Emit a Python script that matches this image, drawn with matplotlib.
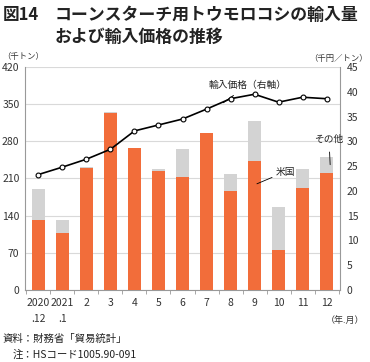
import numpy as np
import matplotlib
matplotlib.use("Agg")
import matplotlib.pyplot as plt

plt.rcParams['font.family'] = ['Noto Sans CJK JP', 'DejaVu Sans']

# 月ラベル
months = ["2020\n.12", "2021\n.1", "2", "3", "4", "5", "6", "7", "8", "9", "10", "11", "12"]
# 輸入量（千トン）
us_vol = [132, 107, 229, 333, 267, 224, 212, 296, 187, 243, 75, 193, 221]
total_vol = [191, 132, 232, 335, 267, 227, 265, 296, 218, 319, 157, 228, 251]
# 輸入価格（千円/トン）
price = [23.3, 24.8, 26.4, 28.4, 32.1, 33.3, 34.5, 36.5, 38.6, 39.5, 37.9, 38.9, 38.6]

other_vol = [t - u for t, u in zip(total_vol, us_vol)]

orange = "#F26D3A"
gray = "#D3D3D3"
W, H = 370, 362

fig = plt.figure(figsize=(W / 100, H / 100), dpi=100)
ax = fig.add_axes([25 / W, 1 - 290 / H, 315 / W, 223 / H])

x = np.arange(len(months))
ax.bar(x, us_vol, width=0.56, color=orange, zorder=3)
ax.bar(x, other_vol, bottom=us_vol, width=0.56, color=gray, zorder=3)

ax.set_xlim(-0.56, 12.56)
ax.set_ylim(0, 420)
ax.set_yticks(range(0, 421, 70))
ax.yaxis.grid(True, color="#d9d9d9", linewidth=0.8, zorder=0)
ax.tick_params(axis="y", length=0, labelsize=7.5, pad=4, colors="#333333")
ax.set_xticks(x)
ax.set_xticklabels(months, fontsize=7.5, linespacing=1.7, color="#333333", va="top")
ax.tick_params(axis="x", length=0, pad=6)
ax.set_xticks(np.arange(-0.5, 13, 1), minor=True)
ax.tick_params(axis="x", which="minor", length=3, color="#999999")
for s in ["left", "right", "bottom"]:
    ax.spines[s].set_color("#999999")
    ax.spines[s].set_linewidth(0.8)
ax.spines["top"].set_visible(False)

ax2 = ax.twinx()
ax2.set_ylim(0, 45)
ax2.set_yticks(range(0, 46, 5))
ax2.tick_params(axis="y", length=0, labelsize=7.5, pad=5, colors="#333333")
ax2.plot(x, price, color="black", linewidth=1.2, marker="o", markersize=3.5,
         markerfacecolor="white", markeredgecolor="black", markeredgewidth=0.8, zorder=5)
for s in ["left", "right", "bottom", "top"]:
    ax2.spines[s].set_visible(False)

# 注釈
ax2.annotate("輸入価格（右軸）", xy=(7.7, 37.8), xytext=(7.1, 41.3), fontsize=7,
             ha="left", va="center", color="#222222",
             arrowprops=dict(arrowstyle="-", color="black", lw=0.7, shrinkA=3, shrinkB=0))
ax.annotate("その他", xy=(12.15, 236), xytext=(12.1, 285), fontsize=7,
            ha="center", va="center", color="#222222",
            arrowprops=dict(arrowstyle="-", color="black", lw=0.6, shrinkA=4, shrinkB=0))
ax.annotate("米国", xy=(9.1, 200), xytext=(9.9, 223), fontsize=7,
            ha="left", va="center", color="#222222",
            arrowprops=dict(arrowstyle="-", color="black", lw=0.6, shrinkA=1, shrinkB=0))

# タイトル・単位・出所
fig.text(3 / W, 1 - 15 / H, "図14", fontsize=12, fontweight="bold", va="center", ha="left", color="#222222")
fig.text(55 / W, 1 - 15 / H, "コーンスターチ用トウモロコシの輸入量", fontsize=12.2,
         fontweight="bold", va="center", ha="left", color="#222222")
fig.text(55 / W, 1 - 37 / H, "および輸入価格の推移", fontsize=12.2,
         fontweight="bold", va="center", ha="left", color="#222222")
fig.text(2 / W, 1 - 57 / H, "（千トン）", fontsize=6, va="center", ha="left", color="#333333")
fig.text(368 / W, 1 - 58 / H, "（千円／トン）", fontsize=6, va="center", ha="right", color="#333333")
fig.text(345 / W, 1 - 320 / H, "（年.月）", fontsize=6.5, va="center", ha="center", color="#333333")
fig.text(3 / W, 1 - 339 / H, "資料：財務省「貿易統計」", fontsize=7.5, va="center", ha="left", color="#222222")
fig.text(13 / W, 1 - 355 / H, "注：HSコード1005.90-091", fontsize=7.5, va="center", ha="left", color="#222222")

fig.savefig("out.png", dpi=100)
